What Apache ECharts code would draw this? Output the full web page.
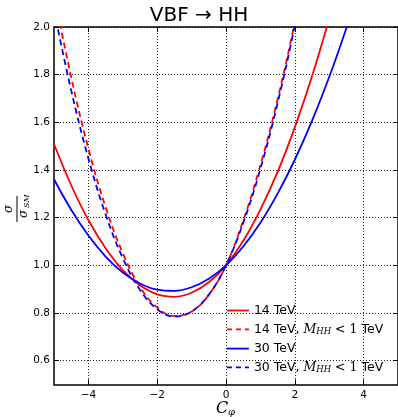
<!DOCTYPE html>
<html><head><meta charset="utf-8">
<script src="https://cdn.jsdelivr.net/npm/echarts@6/dist/echarts.min.js"></script>
<style>html,body{margin:0;padding:0;background:#fff}#c{width:398px;height:417px}</style>
</head><body><div id="c"></div>
<script>
// ---- data ----
var cphi = [-5, -4.5, -4, -3.5, -3, -2.5, -2, -1.5, -1, -0.5, 0, 0.5, 1, 1.5, 2, 2.5, 3, 3.5, 4];
var r14 = [1.509, 1.336, 1.190, 1.072, 0.980, 0.916, 0.878, 0.868, 0.885, 0.929, 1.000, 1.103, 1.234, 1.392, 1.579, 1.793, 2.036, 2.306, 2.604];
var r14cut = [2.140, 1.789, 1.490, 1.244, 1.051, 0.910, 0.823, 0.788, 0.806, 0.876, 1.000, 1.187, 1.420, 1.697, 2.020, 2.388];
var r30 = [1.361, 1.233, 1.125, 1.037, 0.970, 0.924, 0.898, 0.893, 0.908, 0.944, 1.000, 1.079, 1.179, 1.301, 1.443, 1.606, 1.790, 1.996, 2.222];
var r30cut = [2.071, 1.734, 1.448, 1.214, 1.030, 0.897, 0.816, 0.785, 0.806, 0.877, 1.000, 1.178, 1.405, 1.681, 2.007, 2.382];
var seriesNames = ['14 TeV', '14 TeV, M_HH<1 TeV', '30 TeV', '30 TeV, M_HH<1 TeV'];
var seriesColors = ['#ff0000', '#ff0000', '#0000ff', '#0000ff'];
var seriesDashed = [false, true, false, true];
var xTicks = [-4, -2, 0, 2, 4];
var yTicks = [0.6, 0.8, 1.0, 1.2, 1.4, 1.6, 1.8, 2.0];
var titleText = 'VBF \u2192 HH';

function pairs(vals) { return vals.map(function (v, i) { return [cphi[i], v]; }); }

var chart = echarts.init(document.getElementById('c'), null, {renderer: 'canvas'});
var gridLine = {show: true, lineStyle: {color: '#222', width: 1, type: [1, 2]}};
var frame = {show: true, onZero: false, lineStyle: {color: '#000', width: 1.5}};
var dashPat = [6, 4];
function mkSeries(i, vals) {
  return {
    name: seriesNames[i], type: 'line', data: pairs(vals), smooth: 0.4, symbol: 'none', clip: true,
    lineStyle: {color: seriesColors[i], width: 1.8, type: seriesDashed[i] ? dashPat : 'solid'},
    itemStyle: {color: seriesColors[i]}
  };
}
var option = {
  animation: false,
  backgroundColor: '#fff',
  textStyle: {fontFamily: 'DejaVu Sans'},
  grid: {left: 54, top: 27, width: 345, height: 357.5, containLabel: false},
  xAxis: [
    {type: 'value', min: -5, max: 5, position: 'bottom', axisLine: frame,
     axisTick: {show: true, inside: true, length: 5, customValues: xTicks, lineStyle: {color: '#000', width: 1}},
     axisLabel: {customValues: xTicks, margin: 5, color: '#000', fontSize: 10.5, fontFamily: 'DejaVu Sans',
       formatter: function (v) { return String(v).replace('-', '\u2212'); }},
     splitLine: gridLine},
    {type: 'value', min: -5, max: 5, position: 'top', axisLine: frame,
     axisTick: {show: true, inside: true, length: 5, customValues: xTicks, lineStyle: {color: '#000', width: 1}},
     axisLabel: {show: false}, splitLine: {show: false}}
  ],
  yAxis: [
    {type: 'value', min: 0.5, max: 2.0, position: 'left', axisLine: frame,
     axisTick: {show: true, inside: true, length: 5, customValues: yTicks, lineStyle: {color: '#000', width: 1}},
     axisLabel: {customValues: yTicks, margin: 4, color: '#000', fontSize: 10.5, fontFamily: 'DejaVu Sans',
       formatter: function (v) { return v.toFixed(1); }},
     splitLine: gridLine},
    {type: 'value', min: 0.5, max: 2.0, position: 'right', axisLine: frame,
     axisTick: {show: true, inside: true, length: 5, customValues: yTicks, lineStyle: {color: '#000', width: 1}},
     axisLabel: {show: false}, splitLine: {show: false}}
  ],
  legend: {
    orient: 'vertical', left: 221, top: 299, itemWidth: 22, itemHeight: 12, itemGap: 5.8,
    itemStyle: {opacity: 0, borderWidth: 0},
    data: seriesNames.map(function (n, i) {
      return {name: n, itemStyle: {opacity: 0, borderWidth: 0},
        lineStyle: {color: seriesColors[i], width: 1.8, type: seriesDashed[i] ? [5, 4] : 'solid', opacity: 1}};
    }),
    textStyle: {color: '#000', fontSize: 12.5, fontFamily: 'DejaVu Sans',
      rich: {
        m: {fontFamily: 'DejaVu Serif', fontStyle: 'italic', fontSize: 12.5, color: '#000'},
        s: {fontFamily: 'DejaVu Serif', fontStyle: 'italic', fontSize: 8.5, color: '#000', verticalAlign: 'bottom', padding: [5, 0, 0, 0]},
        r: {fontFamily: 'DejaVu Serif', fontSize: 12.5, color: '#000'},
        t: {fontFamily: 'DejaVu Sans', fontSize: 12.5, color: '#000'}
      }},
    formatter: function (n) {
      if (n.indexOf('M_HH') < 0) return '{t|' + n + '}';
      var p = n.split(', ')[0];
      return '{t|' + p + ', }{m|M}{s|HH}{r| < 1}{t| TeV}';
    }
  },
  title: {text: titleText, left: 'center', top: 1, textStyle: {fontFamily: 'DejaVu Sans', fontWeight: 'normal', fontSize: 20, color: '#000'}},
  series: [
    mkSeries(0, r14),
    mkSeries(1, r14cut),
    mkSeries(2, r30),
    mkSeries(3, r30cut)
  ],
  graphic: [
    {type: 'group', x: 17, y: 209, rotation: Math.PI / 2, children: [
      {type: 'text', style: {text: '\u03c3', x: 0, y: -2, align: 'center', verticalAlign: 'bottom', font: 'italic 12px "DejaVu Serif"', fill: '#000'}},
      {type: 'line', shape: {x1: -13, y1: 0, x2: 13, y2: 0}, style: {stroke: '#000', lineWidth: 1}},
      {type: 'text', style: {text: '\u03c3', x: -5, y: 1, align: 'center', verticalAlign: 'top', font: 'italic 12px "DejaVu Serif"', fill: '#000'}},
      {type: 'text', style: {text: 'SM', x: 1, y: 6, align: 'left', verticalAlign: 'top', font: 'italic 8px "DejaVu Serif"', fill: '#000'}}
    ]},
    {type: 'text', style: {text: 'C', x: 222, y: 401, align: 'center', verticalAlign: 'top', font: 'italic 16px "DejaVu Serif"', fill: '#000'}},
    {type: 'text', style: {text: '\u03c6', x: 228, y: 407, align: 'left', verticalAlign: 'top', font: 'italic 10px "DejaVu Serif"', fill: '#000'}}
  ]
};
chart.setOption(option);
</script></body></html>
